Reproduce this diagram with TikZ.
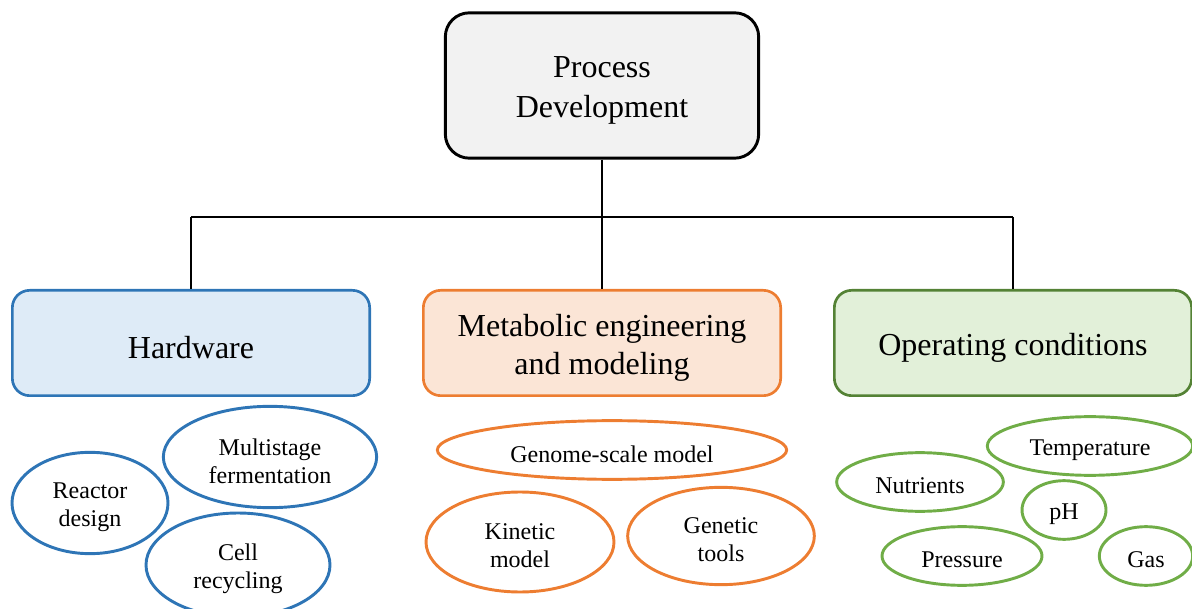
\documentclass[tikz,border=0pt]{standalone}
\usepackage{fontspec}
\setmainfont{Liberation Serif}
\usetikzlibrary{shapes.geometric}
\definecolor{hwline}{HTML}{2E75B6}
\definecolor{hwfill}{HTML}{DEEBF7}
\definecolor{meline}{HTML}{ED7D31}
\definecolor{mefill}{HTML}{FBE5D6}
\definecolor{opline}{HTML}{548235}
\definecolor{opfill}{HTML}{E2F0D9}
\definecolor{opell}{HTML}{70AD47}
\definecolor{topfill}{HTML}{F2F2F2}
\tikzset{
  bigtext/.style={font=\fontsize{24}{30}\selectfont, align=center},
  smalltext/.style={font=\fontsize{18}{21}\selectfont, align=center},
  topbox/.style={draw=black, fill=topfill, line width=2.2pt, rounded corners=18pt, inner sep=0pt},
  catbox/.style={line width=2pt, rounded corners=13pt, inner sep=0pt, minimum width=268pt, minimum height=79pt},
  ell/.style={ellipse, line width=2.2pt, inner sep=0pt},
  btxt/.style={label={[bigtext, inner sep=0pt, yshift=-3.5pt]center:#1}},
  mtxt/.style={label={[bigtext, font=\fontsize{24}{28.5}\selectfont, inner sep=0pt, yshift=-3.5pt]center:#1}},
  stxt/.style={label={[smalltext, inner sep=0pt, yshift=-3pt]center:#1}},
  conn/.style={line width=1.5pt, draw=black}
}
\begin{document}
\begin{tikzpicture}[x=0.75pt,y=-0.75pt]
\useasboundingbox (0,0) rectangle (1192,609);
\clip (0,0) rectangle (1192,609);
\node[topbox, minimum width=235pt, minimum height=109pt, btxt={Process\\Development}] (top) at (602,85.5) {};
\node[catbox, draw=hwline, fill=hwfill, btxt={Hardware}] (hw) at (191,343) {};
\node[catbox, draw=meline, fill=mefill, mtxt={Metabolic engineering\\and modeling}] (me) at (602,343) {};
\node[catbox, draw=opline, fill=opfill, btxt={Operating conditions}] (op) at (1013,343) {};
\coordinate (jl) at (191,217);
\coordinate (jr) at (1013,217);
\draw[conn] (top.south) -- (me.north);
\draw[conn] (jl) -- (jr);
\draw[conn] (jl) -- (hw.north);
\draw[conn] (jr) -- (op.north);
% Hardware ellipses
\node[ell, draw=hwline, minimum width=117pt, minimum height=76pt, stxt={Reactor\\design}] (rd) at (90,503) {};
\node[ell, draw=hwline, minimum width=160pt, minimum height=76pt, stxt={Multistage\\fermentation}] (mf) at (270,457) {};
\node[ell, draw=hwline, minimum width=138pt, minimum height=78pt, stxt={Cell\\recycling}] (cr) at (238,565) {};
% Metabolic ellipses
\node[ell, draw=meline, minimum width=262pt, minimum height=44pt, stxt={Genome-scale model}] (gs) at (612,450) {};
\node[ell, draw=meline, minimum width=141pt, minimum height=75pt, stxt={Kinetic\\model}] (km) at (520,542) {};
\node[ell, draw=meline, minimum width=140pt, minimum height=73pt, stxt={Genetic\\tools}] (gt) at (721,536) {};
% Operating ellipses
\node[ell, draw=opell, minimum width=154pt, minimum height=44pt, stxt={Temperature}] (te) at (1090,446) {};
\node[ell, draw=opell, minimum width=125pt, minimum height=44pt, stxt={Nutrients}] (nu) at (920,482) {};
\node[ell, draw=opell, minimum width=63pt, minimum height=44pt, stxt={pH}] (ph) at (1064,510) {};
\node[ell, draw=opell, minimum width=120pt, minimum height=44pt, stxt={Pressure}] (pr) at (962,556) {};
\node[ell, draw=opell, minimum width=70pt, minimum height=44pt, stxt={Gas}] (ga) at (1146,556) {};
\end{tikzpicture}
\end{document}
